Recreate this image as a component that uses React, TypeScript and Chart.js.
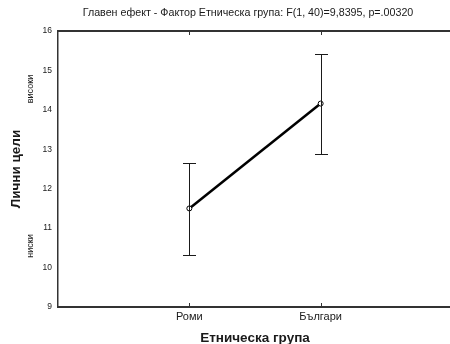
import React, { useEffect, useRef } from "react";
import { Chart, registerables } from "chart.js";

Chart.register(...registerables);

// Means and confidence limits for each ethnic group
const groups = ["Роми", "Българи"];
const groupPositions = [1, 2];
const means = [11.5, 14.16];
const upperLimits = [12.65, 15.42];
const lowerLimits = [10.33, 12.89];
const yTicks = [9, 10, 11, 12, 13, 14, 15, 16];

const titleText = "Главен ефект - Фактор Етническа група: F(1, 40)=9,8395, p=.00320";
const xTitle = "Етническа група";
const yTitle = "Лични цели";
const highLabel = "високи";
const lowLabel = "ниски";

const FONT = "Arial, 'Liberation Sans', sans-serif";
const INK = "#1a1a1a";

const framePlugin = {
  id: "frameAndBars",
  afterDatasetsDraw(chart: any) {
    const { ctx, scales } = chart;
    const x = scales.x;
    const y = scales.y;
    ctx.save();
    // error bars
    ctx.strokeStyle = INK;
    ctx.lineWidth = 1;
    groupPositions.forEach((p, i) => {
      const px = Math.round(x.getPixelForValue(p)) + 0.5;
      const top = Math.round(y.getPixelForValue(upperLimits[i])) + 0.5;
      const bot = Math.round(y.getPixelForValue(lowerLimits[i])) + 0.5;
      ctx.beginPath();
      ctx.moveTo(px, top);
      ctx.lineTo(px, bot);
      ctx.moveTo(px - 6.5, top);
      ctx.lineTo(px + 6.5, top);
      ctx.moveTo(px - 6.5, bot);
      ctx.lineTo(px + 6.5, bot);
      ctx.stroke();
    });
    ctx.restore();
  },
  afterDraw(chart: any) {
    const { ctx, chartArea, scales } = chart;
    const x = scales.x;
    ctx.save();
    // top frame line
    ctx.strokeStyle = "#333";
    ctx.lineWidth = 2;
    ctx.beginPath();
    ctx.moveTo(chartArea.left, chartArea.top);
    ctx.lineTo(chartArea.right, chartArea.top);
    ctx.stroke();
    // inward tick marks at category positions
    ctx.lineWidth = 1;
    groupPositions.forEach((p) => {
      const px = Math.round(x.getPixelForValue(p)) + 0.5;
      ctx.beginPath();
      ctx.moveTo(px, chartArea.top);
      ctx.lineTo(px, chartArea.top + 4);
      ctx.moveTo(px, chartArea.bottom);
      ctx.lineTo(px, chartArea.bottom - 4);
      ctx.stroke();
    });
    // headings and side annotations
    ctx.fillStyle = INK;
    ctx.textBaseline = "middle";
    ctx.textAlign = "center";
    ctx.font = `10.7px ${FONT}`;
    ctx.fillText(titleText, 248, 13);
    ctx.font = `bold 13.5px ${FONT}`;
    ctx.fillText(xTitle, (chartArea.left + chartArea.right) / 2, 338);
    ctx.font = `9px ${FONT}`;
    ctx.save();
    ctx.translate(31, 89);
    ctx.rotate(-Math.PI / 2);
    ctx.fillText(highLabel, 0, 0);
    ctx.restore();
    ctx.save();
    ctx.translate(31, 246);
    ctx.rotate(-Math.PI / 2);
    ctx.fillText(lowLabel, 0, 0);
    ctx.restore();
    ctx.restore();
  },
};

export default function App() {
  const ref = useRef<HTMLCanvasElement | null>(null);

  useEffect(() => {
    if (!ref.current) return;
    const chart = new Chart(ref.current, {
      type: "line",
      data: {
        datasets: [
          {
            data: groupPositions.map((p, i) => ({ x: p, y: means[i] })),
            borderColor: "#000",
            borderWidth: 2.5,
            pointRadius: 2.5,
            pointBackgroundColor: "#fff",
            pointBorderColor: "#000",
            pointBorderWidth: 1,
            tension: 0,
          },
        ],
      },
      options: {
        animation: false,
        responsive: false,
        devicePixelRatio: 1,
        layout: { padding: { top: 31, left: 0, right: 0, bottom: 0 } },
        plugins: { legend: { display: false }, tooltip: { enabled: false }, title: { display: false } },
        scales: {
          x: {
            type: "linear",
            min: 0,
            max: 3,
            afterFit(scale: any) {
              scale.height = 37;
            },
            afterBuildTicks(scale: any) {
              scale.ticks = groupPositions.map((v) => ({ value: v }));
            },
            ticks: {
              padding: 3,
              color: INK,
              font: { family: FONT, size: 11 },
              callback: (v: any) => {
                const i = groupPositions.indexOf(Number(v));
                return i >= 0 ? groups[i] : "";
              },
            },
            grid: { display: false, drawTicks: false },
            border: { display: true, color: "#333", width: 2 },
          },
          y: {
            min: 9,
            max: 16,
            afterFit(scale: any) {
              scale.width = 58;
            },
            afterBuildTicks(scale: any) {
              scale.ticks = yTicks.map((v) => ({ value: v }));
            },
            ticks: {
              padding: 6,
              color: INK,
              font: { family: FONT, size: 8.5 },
            },
            title: {
              display: true,
              text: yTitle,
              color: INK,
              font: { family: FONT, size: 13.5, weight: "bold" },
              padding: { top: 8, bottom: 0 },
            },
            grid: { display: false, drawTicks: false },
            border: { display: true, color: "#333", width: 1.5 },
          },
        },
      },
      plugins: [framePlugin],
    });
    return () => chart.destroy();
  }, []);

  return (
    <div
      style={{
        position: "fixed",
        left: 0,
        top: 0,
        width: 450,
        height: 344,
        overflow: "hidden",
        background: "#fff",
      }}
    >
      <canvas ref={ref} width={457} height={344} style={{ display: "block" }} />
    </div>
  );
}
